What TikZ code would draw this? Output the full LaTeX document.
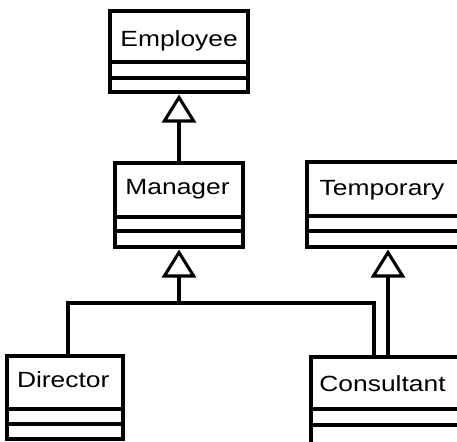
\documentclass[tikz,border=0pt]{standalone}
\usepackage{fontspec}
\setmainfont{Liberation Sans}[FakeStretch=1.2]
\usetikzlibrary{arrows.meta}
\begin{document}
\begin{tikzpicture}[x=1pt,y=-1pt,
  box/.style={draw=black, line width=3.1pt, fill=white, inner sep=0pt, outer sep=0pt, anchor=north west},
  lbl/.style={inner sep=0pt, anchor=base west, text=black, font=\fontsize{22}{26}\selectfont},
  line/.style={draw=black, line width=3.1pt},
  gen/.style={line, -{Triangle[open, length=28pt 0 0, width=34pt 0 0, line width=3.1pt]}, shorten >=2.5pt}]
\useasboundingbox (0,0) rectangle (457,441);
\clip (0,0) rectangle (457,441);
\fill[white] (0,0) rectangle (457,441);
% boxes
\node[box, minimum width=138pt, minimum height=81pt] (emp) at (110,11) {};
\node[box, minimum width=128pt, minimum height=84pt] (mgr) at (115,163) {};
\node[box, minimum width=162pt, minimum height=85pt] (tmp) at (307,162) {};
\node[box, minimum width=116pt, minimum height=83pt] (dir) at (7,356) {};
\node[box, minimum width=154pt, minimum height=90pt] (con) at (311,357) {};
% compartments
\draw[line] (emp.west |- 0,62) -- (emp.east |- 0,62) (emp.west |- 0,78) -- (emp.east |- 0,78);
\draw[line] (mgr.west |- 0,217) -- (mgr.east |- 0,217) (mgr.west |- 0,231) -- (mgr.east |- 0,231);
\draw[line] (tmp.west |- 0,216) -- (tmp.east |- 0,216) (tmp.west |- 0,231) -- (tmp.east |- 0,231);
\draw[line] (dir.west |- 0,409) -- (dir.east |- 0,409) (dir.west |- 0,424) -- (dir.east |- 0,424);
\draw[line] (con.west |- 0,409) -- (con.east |- 0,409) (con.west |- 0,425) -- (con.east |- 0,425);
% labels
\node[lbl] (empl) at (120.2,46.7) {Employee};
\node[lbl] (mgrl) at (125.2,194.3) {Manager};
\node[lbl] (tmpl) at (319.5,195.7) {Temporary};
\node[lbl] (dirl) at (16.8,387.3) {Director};
\node[lbl] (conl) at (319.2,391.7) {Consultant};
% connectors
\coordinate (j) at (179,303);
\coordinate (dstem) at (68,356);
\coordinate (cstem) at (374,357);
\draw[gen] (mgr.north) -- (emp.south -| mgr.north);
\draw[gen] (j) -- (mgr.south);
\draw[line] (dstem) |- (j) -| (cstem);
\draw[gen] (con.north) -- (tmp.south);
\end{tikzpicture}
\end{document}
